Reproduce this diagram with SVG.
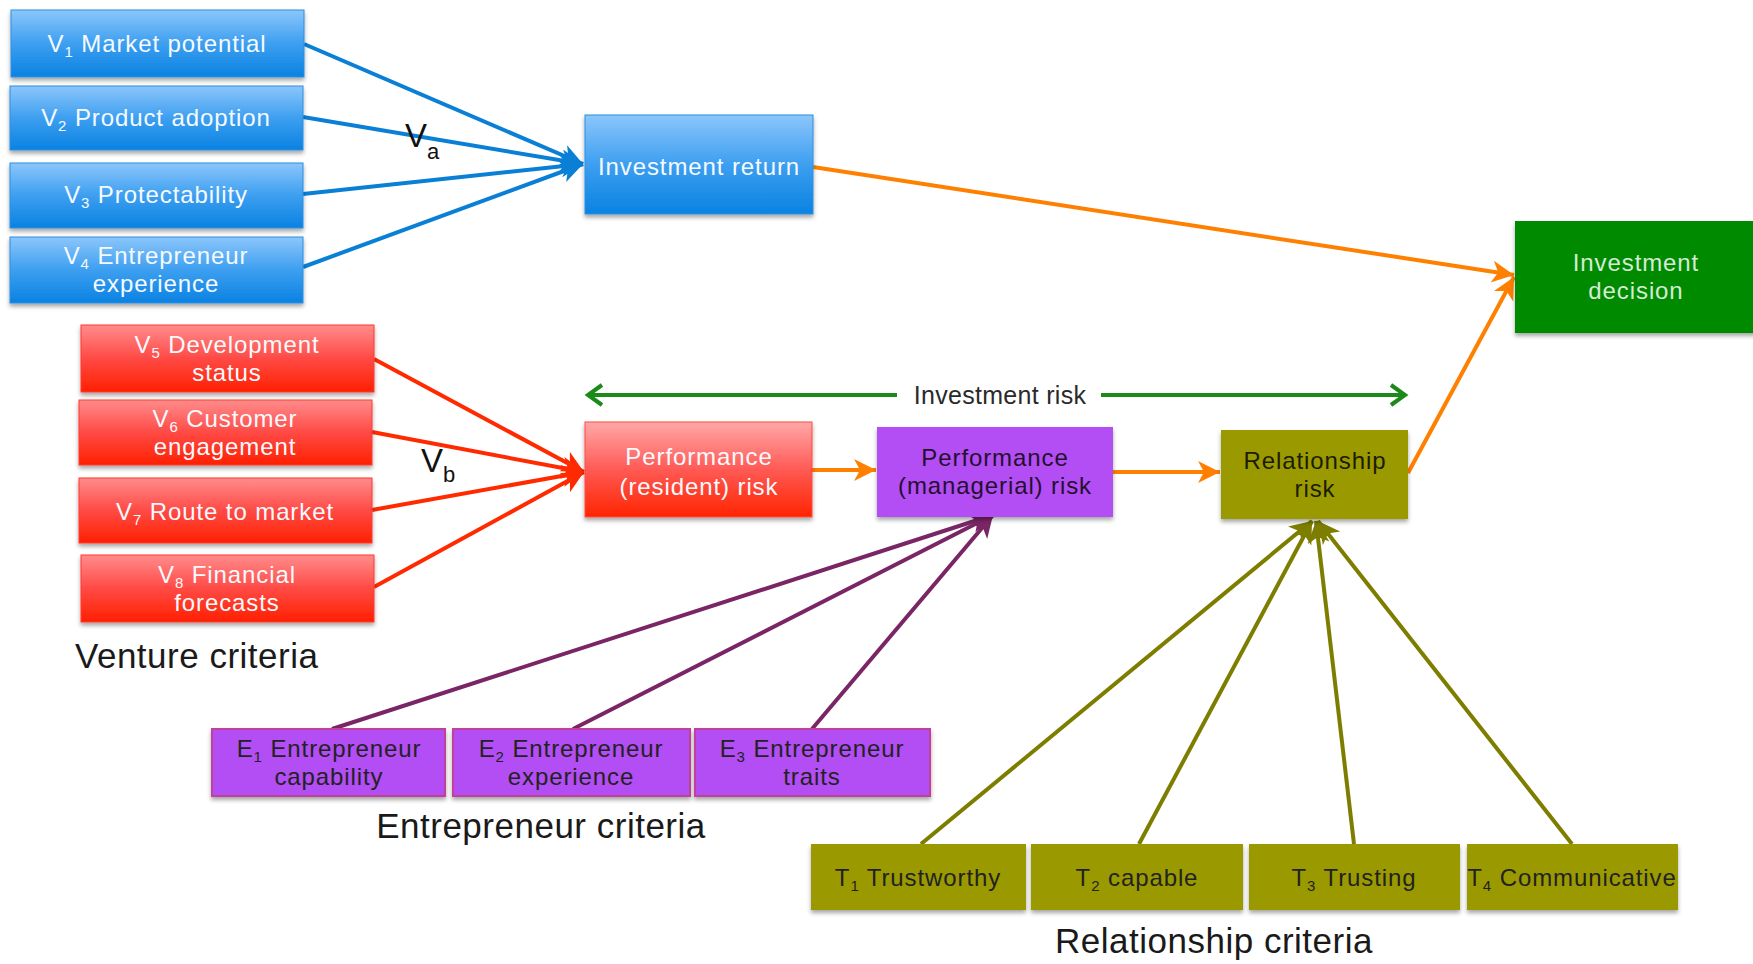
<svg xmlns="http://www.w3.org/2000/svg" width="1753" height="964" viewBox="0 0 1753 964">
  <defs>
    <linearGradient id="gBlue" x1="0" y1="0" x2="0" y2="1">
      <stop offset="0" stop-color="#8cc6fb"/>
      <stop offset="0.5" stop-color="#3d9ff0"/>
      <stop offset="1" stop-color="#0a82e2"/>
    </linearGradient>
    <linearGradient id="gRed" x1="0" y1="0" x2="0" y2="1">
      <stop offset="0" stop-color="#ff8c8c"/>
      <stop offset="0.5" stop-color="#ff4a45"/>
      <stop offset="1" stop-color="#ff2000"/>
    </linearGradient>
    <linearGradient id="gRedLight" x1="0" y1="0" x2="0" y2="1">
      <stop offset="0" stop-color="#ffa8a8"/>
      <stop offset="0.5" stop-color="#ff5a55"/>
      <stop offset="1" stop-color="#ff2400"/>
    </linearGradient>
    <filter id="shadow" x="-10%" y="-20%" width="120%" height="150%">
      <feDropShadow dx="0" dy="3" stdDeviation="2" flood-color="#000" flood-opacity="0.35"/>
    </filter>
    <marker id="aBlue" markerUnits="userSpaceOnUse" markerWidth="24" markerHeight="24" refX="22" refY="11" orient="auto">
      <path d="M0,0 L22,11 L0,22 L6,11 z" fill="#0a7fd6"/>
    </marker>
    <marker id="aRed" markerUnits="userSpaceOnUse" markerWidth="24" markerHeight="24" refX="22" refY="11" orient="auto">
      <path d="M0,0 L22,11 L0,22 L6,11 z" fill="#ff2a00"/>
    </marker>
    <marker id="aOrange" markerUnits="userSpaceOnUse" markerWidth="24" markerHeight="24" refX="22" refY="11" orient="auto">
      <path d="M0,0 L22,11 L0,22 L6,11 z" fill="#ff8000"/>
    </marker>
    <marker id="aPurple" markerUnits="userSpaceOnUse" markerWidth="24" markerHeight="24" refX="22" refY="11" orient="auto">
      <path d="M0,0 L22,11 L0,22 L6,11 z" fill="#7a2565"/>
    </marker>
    <marker id="aOlive" markerUnits="userSpaceOnUse" markerWidth="24" markerHeight="24" refX="22" refY="11" orient="auto">
      <path d="M0,0 L22,11 L0,22 L6,11 z" fill="#7d7d00"/>
    </marker>
    <marker id="aGreen" markerUnits="userSpaceOnUse" markerWidth="24" markerHeight="26" refX="18" refY="12" orient="auto-start-reverse">
      <path d="M4,2 L18,12 L4,22" fill="none" stroke="#1b8a1b" stroke-width="4"/>
    </marker>
    <style>
      text { font-family: "Liberation Sans", Arial, sans-serif; }
      .box { filter: url(#shadow); }
      .blue { fill: url(#gBlue); stroke: #2a8fe0; stroke-width: 1; }
      .red { fill: url(#gRed); stroke: #ff3a30; stroke-width: 1; }
      .redL { fill: url(#gRedLight); stroke: #ff4a40; stroke-width: 1; }
      .purple { fill: #b34ef4; }
      .purpleB { fill: #b34ef4; stroke: #c0409a; stroke-width: 2; }
      .olive { fill: #9a9a00; }
      .green { fill: #008a00; }
      .lbl { font-size: 24px; letter-spacing: 0.9px; text-anchor: middle; }
      .w { fill: #f6faff; }
      .dk { fill: #222; }
      .gtx { fill: #d6ead6; }
      .sub { font-size: 15px; }
      .cap { font-size: 35px; fill: #1a1a1a; letter-spacing: 0.5px; }
      .conn { fill: none; stroke-width: 4; }
    </style>
  </defs>

  <rect width="1753" height="964" fill="#fff"/>

  <!-- connectors -->
  <g id="connectors">
    <g stroke="#0a7fd6" class="conn" marker-end="url(#aBlue)">
      <line x1="304" y1="44" x2="583" y2="164"/>
      <line x1="303" y1="117" x2="583" y2="164"/>
      <line x1="303" y1="194" x2="583" y2="164"/>
      <line x1="303" y1="267" x2="583" y2="164"/>
    </g>
    <g stroke="#ff2a00" class="conn" marker-end="url(#aRed)">
      <line x1="374" y1="359" x2="584" y2="472"/>
      <line x1="372" y1="432" x2="584" y2="472"/>
      <line x1="372" y1="510" x2="584" y2="472"/>
      <line x1="374" y1="587" x2="584" y2="472"/>
    </g>
    <g stroke="#ff8000" class="conn" marker-end="url(#aOrange)">
      <line x1="813" y1="167" x2="1514" y2="275"/>
      <line x1="1408" y1="473" x2="1514" y2="277"/>
      <line x1="812" y1="470" x2="876" y2="470"/>
      <line x1="1113" y1="472" x2="1220" y2="472"/>
    </g>
    <g stroke="#7a2565" class="conn" marker-end="url(#aPurple)">
      <line x1="332" y1="729" x2="993" y2="515"/>
      <line x1="573" y1="729" x2="993" y2="515"/>
      <line x1="812" y1="729" x2="993" y2="515"/>
    </g>
    <g stroke="#7d7d00" class="conn" marker-end="url(#aOlive)">
      <line x1="921" y1="844" x2="1312" y2="521"/>
      <line x1="1139" y1="844" x2="1312" y2="521"/>
      <line x1="1354" y1="844" x2="1316" y2="521"/>
      <line x1="1572" y1="844" x2="1318" y2="521"/>
    </g>
    <g stroke="#1b8a1b" class="conn">
      <line x1="588" y1="395" x2="897" y2="395" marker-start="url(#aGreen)"/>
      <line x1="1101" y1="395" x2="1405" y2="395" marker-end="url(#aGreen)"/>
    </g>
    <text x="405" y="147" font-size="33" fill="#111">V<tspan font-size="22" dy="12">a</tspan></text>
    <text x="421" y="472" font-size="33" fill="#111">V<tspan font-size="22" dy="10">b</tspan></text>
    <text x="1000" y="404" font-size="25" fill="#2a2a2a" text-anchor="middle" letter-spacing="0.3">Investment risk</text>
  </g>

  <!-- venture criteria: return -->
  <g id="v1">
    <rect class="box blue" x="11" y="10" width="293" height="67"/>
    <text class="lbl w" x="157" y="52">V<tspan class="sub" dy="5">1</tspan><tspan dy="-5"> Market potential</tspan></text>
  </g>
  <g id="v2">
    <rect class="box blue" x="10" y="86" width="293" height="64"/>
    <text class="lbl w" x="156" y="126">V<tspan class="sub" dy="5">2</tspan><tspan dy="-5"> Product adoption</tspan></text>
  </g>
  <g id="v3">
    <rect class="box blue" x="10" y="163" width="293" height="65"/>
    <text class="lbl w" x="156" y="203">V<tspan class="sub" dy="5">3</tspan><tspan dy="-5"> Protectability</tspan></text>
  </g>
  <g id="v4">
    <rect class="box blue" x="10" y="237" width="293" height="66"/>
    <text class="lbl w" x="156" y="264">V<tspan class="sub" dy="5">4</tspan><tspan dy="-5"> Entrepreneur</tspan><tspan x="156" dy="28">experience</tspan></text>
  </g>

  <g id="investment-return">
    <rect class="box blue" x="585" y="115" width="228" height="99"/>
    <text class="lbl w" x="699" y="175">Investment return</text>
  </g>

  <g id="investment-decision">
    <rect class="box green" x="1515" y="221" width="245" height="112"/>
    <text class="lbl gtx" x="1636" y="271">Investment<tspan x="1636" dy="28">decision</tspan></text>
  </g>

  <!-- venture criteria: resident risk -->
  <g id="v5">
    <rect class="box red" x="81" y="325" width="293" height="67"/>
    <text class="lbl w" x="227" y="353">V<tspan class="sub" dy="5">5</tspan><tspan dy="-5"> Development</tspan><tspan x="227" dy="28">status</tspan></text>
  </g>
  <g id="v6">
    <rect class="box red" x="79" y="400" width="293" height="65"/>
    <text class="lbl w" x="225" y="427">V<tspan class="sub" dy="5">6</tspan><tspan dy="-5"> Customer</tspan><tspan x="225" dy="28">engagement</tspan></text>
  </g>
  <g id="v7">
    <rect class="box red" x="79" y="478" width="293" height="65"/>
    <text class="lbl w" x="225" y="520">V<tspan class="sub" dy="5">7</tspan><tspan dy="-5"> Route to market</tspan></text>
  </g>
  <g id="v8">
    <rect class="box red" x="81" y="555" width="293" height="67"/>
    <text class="lbl w" x="227" y="583">V<tspan class="sub" dy="5">8</tspan><tspan dy="-5">  Financial</tspan><tspan x="227" dy="28">forecasts</tspan></text>
  </g>
  <text class="cap" x="75" y="668">Venture criteria</text>

  <g id="performance-resident-risk">
    <rect class="box redL" x="585" y="422" width="227" height="95"/>
    <text class="lbl w" x="699" y="465">Performance<tspan x="699" dy="30">(resident) risk</tspan></text>
  </g>

  <g id="performance-managerial-risk">
    <rect class="box purple" x="877" y="427" width="236" height="90"/>
    <text class="lbl" x="995" y="466" fill="#24102e">Performance<tspan x="995" dy="28">(managerial) risk</tspan></text>
  </g>

  <g id="relationship-risk">
    <rect class="box olive" x="1221" y="430" width="187" height="89"/>
    <text class="lbl" x="1315" y="469" fill="#1c1c00">Relationship<tspan x="1315" dy="28">risk</tspan></text>
  </g>

  <!-- entrepreneur criteria -->
  <g id="e1">
    <rect class="box purpleB" x="212" y="729" width="233" height="67"/>
    <text class="lbl dk" x="329" y="757">E<tspan class="sub" dy="5">1</tspan><tspan dy="-5"> Entrepreneur</tspan><tspan x="329" dy="28">capability</tspan></text>
  </g>
  <g id="e2">
    <rect class="box purpleB" x="453" y="729" width="237" height="67"/>
    <text class="lbl dk" x="571" y="757">E<tspan class="sub" dy="5">2</tspan><tspan dy="-5"> Entrepreneur</tspan><tspan x="571" dy="28">experience</tspan></text>
  </g>
  <g id="e3">
    <rect class="box purpleB" x="695" y="729" width="235" height="67"/>
    <text class="lbl dk" x="812" y="757">E<tspan class="sub" dy="5">3</tspan><tspan dy="-5"> Entrepreneur</tspan><tspan x="812" dy="28">traits</tspan></text>
  </g>
  <text class="cap" x="541" y="838" text-anchor="middle">Entrepreneur criteria</text>

  <!-- relationship criteria -->
  <g id="t1">
    <rect class="box olive" x="811" y="844" width="215" height="66"/>
    <text class="lbl dk" x="918" y="886">T<tspan class="sub" dy="5">1</tspan><tspan dy="-5"> Trustworthy</tspan></text>
  </g>
  <g id="t2">
    <rect class="box olive" x="1031" y="844" width="212" height="66"/>
    <text class="lbl dk" x="1137" y="886">T<tspan class="sub" dy="5">2</tspan><tspan dy="-5"> capable</tspan></text>
  </g>
  <g id="t3">
    <rect class="box olive" x="1249" y="844" width="211" height="66"/>
    <text class="lbl dk" x="1354" y="886">T<tspan class="sub" dy="5">3</tspan><tspan dy="-5"> Trusting</tspan></text>
  </g>
  <g id="t4">
    <rect class="box olive" x="1467" y="844" width="211" height="66"/>
    <text class="lbl dk" x="1572" y="886" letter-spacing="0">T<tspan class="sub" dy="5">4</tspan><tspan dy="-5"> Communicative</tspan></text>
  </g>
  <text class="cap" x="1214" y="953" text-anchor="middle">Relationship criteria</text>
</svg>
